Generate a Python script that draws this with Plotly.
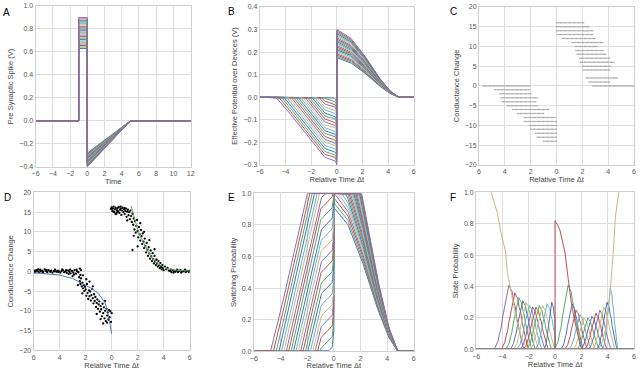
import numpy as np
import plotly.graph_objects as go

# seaborn "deep" colour cycle
PALETTE = ['#4C72B0', '#55A868', '#C44E52', '#8172B2', '#CCB974', '#64B5CD']

# ---- A : pre synaptic spike family
A_TIME = [-6, -1, -1, 0, 0, 5, 12]
A_POS = [0.630, 0.643, 0.656, 0.669, 0.681, 0.694, 0.707, 0.720, 0.733, 0.746, 0.759,
         0.771, 0.784, 0.797, 0.810, 0.823, 0.836, 0.849, 0.861, 0.874, 0.887, 0.900]
A_NEG = [0.280, 0.286, 0.292, 0.297, 0.303, 0.308, 0.314, 0.320, 0.326, 0.332, 0.337,
         0.343, 0.348, 0.354, 0.360, 0.366, 0.372, 0.377, 0.383, 0.388, 0.394, 0.400]

B_LEFT_T = [-6, -4.75, -4.1, -1, -0.12, 0]
B_LEFT_V = [0, 0, -0.04, -0.265, -0.28, -0.30]
B_RIGHT_T = [0, 1, 2, 3, 4, 4.75, 6]
B_RIGHT_V = [0.30, 0.268, 0.20, 0.11, 0.035, 0, 0]
B_NEG0 = [-0.025, -0.038, -0.051, -0.064, -0.077, -0.090, -0.104, -0.117, -0.130, -0.143, -0.156,
          -0.169, -0.182, -0.195, -0.208, -0.221, -0.234, -0.247, -0.261, -0.274, -0.287, -0.300]
B_POS0 = [0.175, 0.181, 0.187, 0.193, 0.199, 0.205, 0.211, 0.217, 0.223, 0.229, 0.235,
          0.240, 0.246, 0.252, 0.258, 0.264, 0.270, 0.276, 0.282, 0.288, 0.294, 0.300]

# ---- E : switching probability per volt over threshold
E_GAIN = 5.2

# ---- C : conductance change levels and their dt span
C_POS_LEVEL = [16, 15, 14, 13, 12, 11, 10, 9, 8, 7, 6, 5, 4, 2, 1, 0]
C_POS_START = [0.0, 0.0, 0.0, 0.1, 0.45, 1.2, 1.45, 1.5, 1.6, 1.8, 1.85, 2.0, 2.1, 2.3, 2.5, 2.8]
C_POS_END = [2.1, 2.5, 2.8, 2.8, 3.0, 3.6, 3.2, 3.6, 3.85, 4.1, 4.5, 4.2, 4.15, 4.75, 4.15, 6.0]
C_NEG_LEVEL = [0, -1, -2, -3, -4, -5, -6, -7, -8, -9, -10, -11, -12, -13, -14]
C_NEG_START = [-5.7, -4.8, -4.4, -4.3, -4.2, -3.8, -3.4, -3.0, -2.5, -2.5, -2.1, -2.0, -1.6, -1.5, -1.0]
C_NEG_END = [-2.1, -2.1, -2.0, -1.5, -1.6, -1.5, -0.6, -1.0, -0.1, 0, 0, 0, 0, 0, 0]
C_STEP = 0.1

# ---- D : measured points and fits
D_NEG_X = [-5.95, -5.85, -5.8, -5.7, -5.6, -5.5, -5.45, -5.35, -5.25, -5.15, -5.05, -4.95, -4.85, -4.75,
           -4.65, -4.55, -4.45, -4.35, -4.25, -4.15, -4.05, -3.95, -3.85, -3.75, -3.65, -3.55, -3.45,
           -3.35, -3.25, -3.15, -3.05, -2.95, -2.85, -2.75, -2.65, -2.55, -2.45, -2.4, -2.35,
           -5.9, -5.65, -5.3, -5.0, -4.7, -4.4, -4.1, -3.8, -3.5, -3.2, -2.9, -2.7, -3.0, -3.3,
           -2.5, -2.45, -2.4, -2.35, -2.3, -2.25, -2.2, -2.15, -2.1, -2.05, -2.0, -1.95, -1.9, -1.85,
           -1.8, -1.75, -1.7, -1.65, -1.6, -1.55, -1.5, -1.45, -1.4, -1.35, -1.3, -1.25, -1.2, -1.15,
           -1.1, -1.05, -1.0, -0.95, -0.9, -0.85, -0.8, -0.75, -0.7, -0.65, -0.6, -0.55, -0.5, -0.45,
           -0.4, -0.35, -0.3, -0.25, -0.2, -0.15, -0.1, -0.05, 0.0, -2.6, -2.25, -1.95, -1.45, -1.15,
           -0.85, -0.5, -2.2, -1.7, -0.35, -0.65]
D_NEG_Y = [0.2, -0.1, 0.3, 0.1, -0.2, 0.4, 0.0, 0.2, -0.1, 0.5, 0.1, -0.2, 0.3, 0.0,
           0.2, -0.3, 0.1, 0.4, -0.1, 0.2, 0.0, -0.3, 0.1, 0.3, -0.2, 0.0, -0.4,
           0.2, -0.1, -0.5, 0.1, -0.3, 0.3, -0.6, 0.0, -0.2, 0.7, -0.9, 0.3,
           -0.3, 0.5, -0.3, 0.3, -0.1, 0.0, -0.2, 0.5, 0.3, 0.4, -0.8, 0.4, -1.2, -0.7,
           -1.5, -2.5, -3.2, -1.8, -3.8, -2.9, -4.3, -3.5, -5.0, -3.9, -4.6, -6.2, -3.2, -5.5,
           -7.0, -4.8, -6.3, -5.1, -7.4, -6.0, -4.5, -6.8, -8.1, -5.8, -7.5, -6.5, -9.0, -8.0,
           -7.1, -9.5, -8.4, -7.6, -10.2, -8.8, -9.6, -11.4, -8.2, -10.6, -9.1, -11.9, -10.0, -12.6,
           -9.5, -11.2, -10.4, -12.2, -9.8, -11.6, -10.1, -12.8, -10.6, -3.5, -5.6, -2.0, -3.8, -10.8,
           -12.1, -7.5, -1.0, -2.6, -13.0, -13.2]
D_POS_X = [-0.05, 0.0, 0.05, 0.1, 0.15, 0.2, 0.25, 0.3, 0.35, 0.4, 0.45, 0.5, 0.55, 0.6, 0.65, 0.7,
           0.75, 0.8, 0.85, 0.9, 0.95, 1.0, 1.05, 1.1, 1.15, 1.2, 1.25, 1.3, 1.35, 1.4, 1.45, 1.5,
           0.15, 0.4, 0.7, 1.0, 1.2, 0.3,
           1.55, 1.6, 1.65, 1.7, 1.75, 1.8, 1.85, 1.9, 1.95, 2.0, 2.05, 2.1, 2.15, 2.2, 2.25, 2.3,
           2.35, 2.4, 2.45, 2.5, 2.55, 2.6, 2.65, 2.7, 2.75, 2.8, 2.85, 2.9, 2.95, 3.0, 3.05, 3.1,
           3.15, 3.2, 3.25, 3.3, 3.35, 3.4, 3.45, 3.5, 3.55, 3.6, 3.65, 3.7, 3.75, 3.8, 3.85, 3.9,
           3.95, 4.0, 4.1, 4.2, 4.3, 4.4, 1.6, 2.2, 2.5, 2.0, 1.7, 2.9, 3.3,
           4.5, 4.6, 4.7, 4.8, 4.9, 5.0, 5.1, 5.2, 5.3, 5.4, 5.5, 5.6, 5.7, 5.8, 5.9, 6.0,
           4.55, 4.75, 5.05, 5.35, 5.65, 5.95]
D_POS_Y = [15.8, 16.2, 15.3, 15.9, 16.4, 15.0, 15.7, 16.1, 14.6, 15.5, 16.0, 15.2, 16.3, 14.8, 15.6, 15.9,
           14.3, 15.4, 16.1, 15.0, 15.7, 14.5, 15.3, 15.9, 13.8, 15.1, 15.6, 14.2, 15.0, 13.2, 15.4, 14.0,
           15.1, 14.9, 16.4, 16.0, 12.9, 14.5,
           12.5, 14.6, 11.8, 13.4, 10.6, 12.7, 9.8, 11.5, 13.0, 10.2, 8.6, 11.2, 9.4, 7.8, 10.5, 8.9,
           6.9, 9.6, 7.5, 5.9, 8.3, 6.4, 4.8, 7.2, 5.5, 3.9, 6.1, 4.5, 3.2, 5.3, 3.8, 2.6,
           4.6, 3.1, 2.0, 3.9, 2.5, 1.6, 3.0, 2.0, 1.2, 2.6, 1.5, 0.8, 2.1, 1.1, 0.5, 1.6,
           0.9, 0.3, 1.2, 0.5, 0.9, 0.2, 5.4, 12.2, 10.0, 6.3, 9.0, 7.9, 5.6,
           0.1, -0.2, 0.3, 0.0, -0.1, 0.2, -0.2, 0.1, 0.3, -0.1, 0.0, 0.2, -0.2, 0.1, 0.0, 0.2,
           0.4, -0.3, 0.4, -0.3, 0.4, -0.2]
D_FIT_NEG_T = [-6, -5, -4, -3, -2, -1.5, -1, -0.5, -0.25, 0]
D_FIT_NEG_V = [-0.35, -0.6, -0.95, -1.8, -3.4, -4.4, -5.7, -8.0, -11.0, -15.8]
D_FIT_POS_T = [1.5, 1.75, 2, 2.25, 2.5, 3, 3.5, 4, 4.5, 5, 6]
D_FIT_POS_V = [16.5, 13.2, 10.6, 8.5, 6.9, 3.9, 2.0, 1.0, 0.55, 0.3, 0.1]

# ---- F : state probabilities
BUMP_U = [-1, -0.9, -0.8, -0.7, -0.6, -0.5, -0.4, -0.3, -0.2, -0.1, 0,
          0.1, 0.2, 0.3, 0.4, 0.5, 0.6, 0.7, 0.8, 0.9, 1]
BUMP_V = [0, 0.02, 0.07, 0.12, 0.24, 0.33, 0.5, 0.62, 0.78, 0.86, 1.0,
          0.94, 0.9, 0.74, 0.66, 0.48, 0.36, 0.2, 0.13, 0.04, 0]
F_LEFT_C = [-3.5, -3.05, -2.75, -2.45, -2.2, -1.95, -1.7, -1.45, -1.2, -0.95, -0.6, -0.25]
F_LEFT_P = [0.41, 0.36, 0.33, 0.31, 0.30, 0.28, 0.27, 0.27, 0.28, 0.28, 0.29, 0.30]
F_LEFT_W = [1.2, 1.1, 1.05, 1.0, 1.0, 1.0, 1.0, 1.0, 1.0, 1.0, 0.95, 0.6]
F_LEFT_COL = [3, 2, 1, 0, 4, 5, 3, 2, 1, 4, 5, 0]
F_RIGHT_C = [1.0, 1.3, 1.6, 1.9, 2.2, 2.5, 2.8, 3.1, 3.4, 3.7, 3.95, 4.2]
F_RIGHT_P = [0.41, 0.29, 0.25, 0.22, 0.20, 0.20, 0.21, 0.23, 0.25, 0.27, 0.30, 0.39]
F_RIGHT_W = [1.1, 0.9, 0.9, 0.9, 0.9, 0.9, 0.9, 0.9, 0.9, 0.9, 0.8, 0.6]
F_RIGHT_COL = [1, 0, 2, 5, 4, 1, 0, 2, 3, 4, 0, 5]
F_YEL_T = [-6, -5.0, -4.85, -4.6, -4.38, -4.15, -3.92, -3.75, -3.62, -3.45, -3.3, -3.1, -2.9, -2.6,
           -2.3, -2.0, 3.3, 3.6, 3.9, 4.1, 4.2, 4.37, 4.5, 4.57, 4.75, 4.87, 5.0, 6]
F_YEL_V = [1.3, 1.08, 1.0, 0.93, 0.87, 0.76, 0.67, 0.62, 0.49, 0.42, 0.36, 0.27, 0.18, 0.09,
           0.03, 0.0, 0.0, 0.05, 0.15, 0.28, 0.37, 0.56, 0.72, 0.83, 0.95, 1.0, 1.08, 1.3]
F_RED_T = [-6, 0, 0, 0.05, 0.2, 0.37, 0.55, 0.75, 1.0, 1.25, 1.45, 1.6, 1.75, 1.9, 2.05, 6]
F_RED_V = [0, 0, 0.82, 0.81, 0.79, 0.76, 0.70, 0.62, 0.45, 0.29, 0.20, 0.14, 0.08, 0.03, 0.0, 0]

FONT = 'Liberation Sans, Arial, sans-serif'
W, H = 640, 370


def line(fig, x, y, col, n):
    fig.add_trace(go.Scatter(x=list(x), y=list(y), mode='lines', xaxis='x' + n, yaxis='y' + n,
                             line=dict(color=col, width=1), showlegend=False, hoverinfo='skip'))


def bump(center, peak, width, side):
    x0 = center + np.array(BUMP_U) * width
    y0 = peak * np.array(BUMP_V)
    x, y = x0, y0
    if side < 0 and x0[-1] > 0:
        keep = x0 < 0
        x = np.append(x0[keep], [0, 0])
        y = np.append(y0[keep], [np.interp(0, x0, y0), 0])
    if side > 0 and x0[0] < 0:
        keep = x0 > 0
        x = np.concatenate([[0, 0], x0[keep]])
        y = np.concatenate([[0, np.interp(0, x0, y0)], y0[keep]])
    return np.concatenate([[-6], x, [6]]), np.concatenate([[0], y, [0]])


fig = go.Figure()

# A
for i in range(len(A_POS)):
    ya = [0, 0, A_POS[i], A_POS[i], -A_NEG[i], 0, 0]
    line(fig, A_TIME, ya, PALETTE[i % 6], '')

# B and E
tl = np.linspace(-6, 0, 241)
tr = np.linspace(0, 6, 241)
left_t = np.interp(tl, B_LEFT_T, B_LEFT_V)
right_t = np.interp(tr, B_RIGHT_T, B_RIGHT_V)
for i in range(len(B_NEG0)):
    bl = np.minimum(0, left_t + (B_NEG0[i] - B_LEFT_V[-1]))
    br = right_t * B_POS0[i] / B_RIGHT_V[0]
    line(fig, np.concatenate([tl, tr]), np.concatenate([bl, br]), PALETTE[i % 6], '2')
    el = np.clip(-E_GAIN * bl, 0, 1)
    er = np.clip(E_GAIN * br, 0, 1)
    line(fig, np.concatenate([tl, tr]), np.concatenate([el, er]), PALETTE[i % 6], '5')

# C
cx, cy = [], []
for lv, s, e in zip(C_POS_LEVEL + C_NEG_LEVEL, C_POS_START + C_NEG_START, C_POS_END + C_NEG_END):
    xs = np.arange(s, e + 1e-9, C_STEP)
    cx += list(xs)
    cy += [lv] * len(xs)
fig.add_trace(go.Scatter(x=cx, y=cy, mode='markers', xaxis='x3', yaxis='y3', showlegend=False,
                         marker=dict(color='#a8a8a8', size=1.5), hoverinfo='skip'))

# D
fig.add_trace(go.Scatter(x=D_NEG_X + D_POS_X, y=D_NEG_Y + D_POS_Y, mode='markers', xaxis='x4', yaxis='y4',
                         showlegend=False, marker=dict(color='black', size=2.3), hoverinfo='skip'))
line(fig, D_FIT_NEG_T, D_FIT_NEG_V, PALETTE[0], '4')
line(fig, D_FIT_POS_T, D_FIT_POS_V, PALETTE[1], '4')

# F
for c, p, w, k in zip(F_LEFT_C, F_LEFT_P, F_LEFT_W, F_LEFT_COL):
    bx, by = bump(c, p, w, -1)
    line(fig, bx, by, PALETTE[k], '6')
for c, p, w, k in zip(F_RIGHT_C, F_RIGHT_P, F_RIGHT_W, F_RIGHT_COL):
    bx, by = bump(c, p, w, 1)
    line(fig, bx, by, PALETTE[k], '6')
line(fig, F_YEL_T, F_YEL_V, PALETTE[4], '6')
line(fig, F_RED_T, F_RED_V, PALETTE[2], '6')


def axes(px_x, px_y):
    return [px_x[0] / W, px_x[1] / W], [1 - px_y[1] / H, 1 - px_y[0] / H]


panels = [
    # name, x px, y px, xrange, yrange, xdtick, ydtick, xtitle, ytitle, yfmt, minusless
    ('', (32, 189), (2, 166), [-6, 12], [-0.4, 1.0], 2, 0.2, 'Time', 'Pre Synaptic Spike (V)', '.1f', False),
    ('2', (259, 415), (3, 164), [-6, 6], [-0.3, 0.4], 2, 0.1, 'Relative Time \u0394t',
     'Effective Potential over Devices (V)', '.1f', False),
    ('3', (481, 638), (3, 164), [-6, 6], [-20, 20], 2, 5, 'Relative Time \u0394t', 'Conductance Change', None, True),
    ('4', (30, 188), (192, 353), [-6, 6], [-20, 20], 2, 5, 'Relative Time \u0394t', 'Conductance Change', None, True),
    ('5', (253, 415), (193, 354), [-6, 6], [0, 1], 2, 0.2, 'Relative Time \u0394t', 'Switching Probability', '.1f', False),
    ('6', (478, 638), (192, 352), [-6, 6], [0, 1], 2, 0.2, 'Relative Time \u0394t', 'State Probability', '.1f', False),
]

lay = {}
for n, pxx, pxy, xr, yr, xd, yd, xt, yt, yf, nominus in panels:
    xdom, ydom = axes(pxx, pxy)
    common = dict(showgrid=True, gridcolor='#dedede', gridwidth=1, zeroline=False, showline=True,
                  linecolor='#cfcfcf', linewidth=1, mirror=True, ticks='', ticklen=0,
                  tickfont=dict(family=FONT, size=7, color='#555555'))
    xa = dict(common, domain=xdom, range=xr, dtick=xd, tick0=0, anchor='y' + n,
              title=dict(text=xt, font=dict(family=FONT, size=7.5, color='#444444'), standoff=2))
    if nominus:
        xa['tickmode'] = 'array'
        xa['tickvals'] = [-6, -4, -2, 0, 2, 4, 6]
        xa['ticktext'] = ['6', '4', '2', '0', '2', '4', '6']
    ya = dict(common, domain=ydom, range=yr, dtick=yd, tick0=0, anchor='x' + n,
              title=dict(text=yt, font=dict(family=FONT, size=7.5, color='#444444'), standoff=4))
    if yf:
        ya['tickformat'] = yf
    lay['xaxis' + n] = xa
    lay['yaxis' + n] = ya

letters = [('A', 3, 9), ('B', 230, 8), ('C', 455, 8), ('D', 4, 197), ('E', 230, 197), ('F', 455, 197)]
ann = [dict(text=t, x=x / W, y=1 - y / H, xref='paper', yref='paper', showarrow=False,
            font=dict(family=FONT, size=10, color='black'), xanchor='center', yanchor='middle')
       for t, x, y in letters]

fig.update_layout(width=W, height=H, margin=dict(l=0, r=0, t=0, b=0), paper_bgcolor='white',
                  plot_bgcolor='white', annotations=ann, **lay)
fig.write_html('out.html', config={'displayModeBar': False},
               post_script="document.body.style.margin='0';")
